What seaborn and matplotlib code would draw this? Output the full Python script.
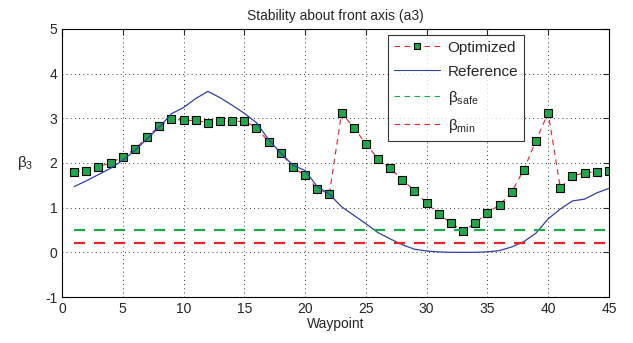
import numpy as np
import matplotlib
matplotlib.use("Agg")
import matplotlib.pyplot as plt
import seaborn as sns

sns.set_style("white")
plt.rcParams['font.family'] = ['Liberation Sans', 'DejaVu Sans']
plt.rcParams['mathtext.fontset'] = 'custom'
plt.rcParams['mathtext.rm'] = 'Liberation Sans'
plt.rcParams['mathtext.it'] = 'Liberation Sans'
plt.rcParams['axes.unicode_minus'] = False

# Datos
waypoints = np.arange(1, 46)
optimized = [1.80, 1.83, 1.92, 2.00, 2.13, 2.31, 2.58, 2.82, 2.99, 2.95,
             2.95, 2.90, 2.93, 2.93, 2.93, 2.79, 2.47, 2.22, 1.90, 1.72,
             1.42, 1.31, 3.12, 2.79, 2.43, 2.09, 1.89, 1.62, 1.38, 1.10,
             0.85, 0.66, 0.47, 0.66, 0.88, 1.06, 1.35, 1.85, 2.50, 3.12,
             1.44, 1.71, 1.78, 1.80, 1.82]
reference = [1.47, 1.60, 1.74, 1.88, 2.06, 2.28, 2.54, 2.80, 3.10, 3.24,
             3.44, 3.60, 3.46, 3.29, 3.11, 2.90, 2.52, 2.22, 1.95, 1.83,
             1.47, 1.30, 1.02, 0.83, 0.64, 0.44, 0.30, 0.17, 0.07, 0.03,
             0.01, 0.00, 0.00, 0.00, 0.01, 0.04, 0.12, 0.24, 0.43, 0.75,
             0.97, 1.15, 1.19, 1.33, 1.43]
beta_safe = 0.5
beta_min = 0.2

rojo = "#e8232a"
verde = "#1fa84a"
azul = "#3040a8"

fig = plt.figure(figsize=(6.33, 3.43), dpi=100)
ax = fig.add_axes([0.098, 0.134, 0.864, 0.782])

sns.lineplot(x=waypoints, y=optimized, ax=ax, color=rojo, linestyle=(0, (5, 4)),
             linewidth=0.8, marker='s', markersize=5.2, markerfacecolor=verde,
             markeredgecolor='black', markeredgewidth=0.8, label="Optimized")
sns.lineplot(x=waypoints, y=reference, ax=ax, color=azul, linewidth=0.9,
             label="Reference")
sns.lineplot(x=waypoints, y=[beta_safe] * len(waypoints), ax=ax, color=verde,
             linestyle=(0, (5, 4)), linewidth=1.6, label=r"$\beta_{\mathrm{safe}}$")
sns.lineplot(x=waypoints, y=[beta_min] * len(waypoints), ax=ax, color=rojo,
             linestyle=(0, (5, 4)), linewidth=1.6, label=r"$\beta_{\mathrm{min}}$")

ax.set_xlim(0, 45)
ax.set_ylim(-1, 5)
ax.set_xticks(range(0, 46, 5))
ax.set_yticks(range(-1, 6))
ax.grid(True, color='black', linestyle=(0, (1, 4)), linewidth=0.6)
ax.tick_params(direction='in', top=True, right=True, length=4, labelsize=10)
for s in ax.spines.values():
    s.set_color('black')
    s.set_linewidth(0.8)

ax.set_title("Stability about front axis (a3)", fontsize=10, pad=6)
ax.set_xlabel("Waypoint", fontsize=10, labelpad=1)
ax.set_ylabel(r"$\beta_3$", fontsize=11, rotation=0, labelpad=14, va='center')

leg = ax.legend(loc='upper left', bbox_to_anchor=(0.596, 0.978), numpoints=1,
                fontsize=11, frameon=True, fancybox=False, edgecolor='black',
                handlelength=3.0, borderpad=0.4, labelspacing=0.65,
                borderaxespad=0, handletextpad=0.5)
leg.get_frame().set_linewidth(0.8)
for h in leg.get_lines():
    h.set_linewidth(0.8)
    h.set_markersize(4.5)

plt.savefig("out.png", dpi=100)
